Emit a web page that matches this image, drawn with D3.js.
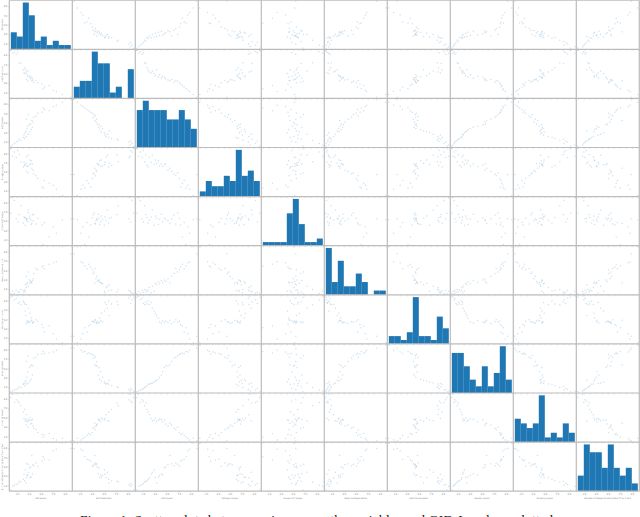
<!DOCTYPE html>
<html><head><meta charset="utf-8">
<style>html,body{margin:0;padding:0;background:#fff;overflow:hidden}svg{display:block}</style>
<script src="https://cdn.jsdelivr.net/npm/d3@7"></script></head><body>
<svg id="c" width="640" height="517"></svg>
<script>
// Readings on a 0-10 scale per variable; one entry per observation (36), same order in each list.
const gniLevels = [0.0,0.3,0.6,0.9,1.2,1.7,1.4,2.3,2.1,2.6,2.2,2.9,2.4,3.2,2.5,3.4,2.7,3.6,2.8,3.1,3.3,3.7,3.5,2.6,3.8,4.2,2.9,4.5,5.2,6.4,5.6,5.4,7.1,7.6,8.6,10.0];
const selfProduction = [10.0,9.4,9.7,9.2,9.5,7.4,7.2,6.3,5.8,5.4,5.2,5.6,5.1,4.6,5.9,4.3,4.8,4.1,4.5,4.2,3.9,3.7,3.5,3.8,3.2,3.6,3.4,3.1,2.8,2.5,2.2,1.8,1.5,1.2,0.6,0.0];
const co2Levels = [0.0,0.3,0.6,0.9,1.1,1.3,1.5,1.7,1.9,2.1,2.4,2.6,2.9,3.1,3.3,3.6,3.8,4.1,4.3,4.6,4.8,5.2,5.5,5.8,6.2,6.5,6.8,7.1,7.3,7.6,7.9,8.2,8.5,8.8,9.4,10.0];
const nitrogenUsage = [10.0,8.4,9.3,8.1,9.6,7.2,8.7,6.4,6.1,8.2,7.1,8.6,6.6,7.6,6.9,7.4,6.3,6.7,6.2,6.5,6.8,5.4,5.8,5.1,4.6,4.2,4.8,3.6,1.8,2.6,3.2,1.6,2.2,1.3,0.0,4.5];
const smokeUsage = [6.7,10.0,9.4,5.5,4.8,8.3,6.4,5.8,4.6,5.2,5.9,7.4,4.1,6.1,5.6,4.3,5.4,6.5,4.9,5.7,5.3,5.1,4.5,5.5,6.3,4.4,6.8,5.6,4.2,1.6,4.7,0.0,3.8,2.4,5.3,5.5];
const medicineExpenditure = [0.0,0.5,0.1,0.7,0.3,0.9,0.4,0.8,0.6,1.3,0.2,1.6,0.5,2.2,1.9,2.5,2.1,2.8,2.4,2.9,2.6,3.2,2.3,3.7,4.3,5.4,4.6,5.1,5.7,6.3,5.3,5.9,6.6,6.8,10.0,8.5];
const dietConsumption = [9.7,10.0,9.2,9.5,8.4,8.1,8.7,8.3,8.9,8.2,8.6,7.4,6.8,6.3,5.8,5.3,4.5,4.2,4.7,4.4,4.6,4.3,4.8,4.1,4.5,4.9,4.4,4.6,3.9,3.6,2.3,3.2,1.9,0.8,0.0,1.4];
const obesityLevels = [0.0,0.2,0.4,0.5,0.7,0.9,1.1,1.3,1.6,1.7,1.8,1.9,2.1,2.3,2.5,2.7,3.1,3.6,4.3,5.2,5.6,5.5,5.8,6.5,7.2,7.4,7.7,8.0,8.1,8.3,8.2,8.6,8.5,8.9,10.0,9.3];
const smokingLevels = [9.3,10.0,8.2,8.8,8.5,7.5,8.1,6.7,6.2,5.6,4.8,4.3,4.5,4.9,4.2,4.4,4.7,4.6,4.1,4.5,3.6,3.2,3.8,3.4,2.7,2.4,2.9,1.8,1.4,1.6,1.2,0.8,0.5,0.2,0.6,0.0];
const peopleSmoking = [0.0,0.8,1.0,1.2,1.4,1.7,1.9,2.0,2.3,2.6,3.4,3.8,4.3,2.7,1.5,2.8,3.1,3.5,3.2,4.7,4.9,5.4,7.4,5.6,5.2,5.8,5.5,5.1,6.2,6.4,6.6,7.1,8.4,8.7,10.0,8.9];

const variableLabels = ["GNI Levels","Self Production","CO2 Levels","Nitrogen Usage","Smoke KxT Usage","Medicine Expenditure","Diet Consumption","Obesity Levels","Smoking Levels","Number of People Smoking More Than 1 Year"];
const tickValues = [1,3,5,7,9];
const minorTicks = [0,1,2,3,4,5,6,7,8,9,10];
const variables = [gniLevels,selfProduction,co2Levels,nitrogenUsage,smokeUsage,medicineExpenditure,dietConsumption,obesityLevels,smokingLevels,peopleSmoking];
const captionText = "Figure 1: Scatter plots between pairs among the variables and GID-Level are plotted";

const left = 9.3, top0 = 0.2, cellW = 63.0, cellH = 49.1, n = variables.length;
const blue = "#1f77b4", spine = "#bcbcbc", textGrey = "#777";
const svg = d3.select("#c");
const xEdge = d3.scaleLinear().domain([0,n]).range([left,left+n*cellW]);
const yEdge = d3.scaleLinear().domain([0,n]).range([top0,top0+n*cellH]);

function styleAxis(ax){
  ax.select(".domain").remove();
  ax.selectAll("line").attr("stroke","#bbb").attr("stroke-width",0.4);
  ax.selectAll("text").attr("font-size",2.3).attr("fill",textGrey).attr("font-family","DejaVu Sans");
}

variables.forEach((vy,r)=>{
  variables.forEach((vx,c)=>{
    const g = svg.append("g").attr("transform",`translate(${xEdge(c)},${yEdge(r)})`);
    const x = d3.scaleLinear().domain([-0.25,10.25]).range([0,cellW]);
    const y = d3.scaleLinear().domain([-0.25,10.25]).range([cellH,0]);
    if(r===c){
      const bins = d3.bin().domain([0,10]).thresholds(d3.range(1,10))(vx);
      const yh = d3.scaleLinear().domain([0,d3.max(bins,b=>b.length)*1.05]).range([cellH,0]);
      g.selectAll("rect").data(bins).join("rect")
        .attr("x",b=>x(b.x0)).attr("width",b=>x(b.x1)-x(b.x0))
        .attr("y",b=>yh(b.length)).attr("height",b=>cellH-yh(b.length))
        .attr("fill",blue);
    } else {
      g.selectAll("circle").data(vx.map((v,i)=>[v,vy[i]])).join("circle")
        .attr("cx",d=>x(d[0])).attr("cy",d=>y(d[1])).attr("r",0.75)
        .attr("fill",blue).attr("fill-opacity",0.22);
    }
    if(r<n-1){
      const ax = g.append("g").attr("transform",`translate(0,${cellH})`)
        .call(d3.axisBottom(x).tickValues(minorTicks).tickSize(1.6).tickFormat(""));
      ax.select(".domain").remove();
      ax.selectAll("line").attr("stroke","#ccc").attr("stroke-width",0.5);
    }
    if(r===n-1){
      const ax = g.append("g").attr("transform",`translate(0,${cellH})`)
        .call(d3.axisBottom(x).tickValues(tickValues).tickSize(1.5).tickPadding(0.5).tickFormat(d3.format(".1f")));
      styleAxis(ax);
    }
    if(c===0){
      const ax = g.append("g").call(d3.axisLeft(y).tickValues(tickValues).tickSize(1.5).tickPadding(0.5).tickFormat(d3.format(".1f")));
      styleAxis(ax);
    }
  });
});

// spines
d3.range(0,n+1).forEach(i=>{
  svg.append("line").attr("x1",xEdge(i)).attr("x2",xEdge(i)).attr("y1",top0).attr("y2",yEdge(n)).attr("stroke",spine).attr("stroke-width",1.2);
  svg.append("line").attr("x1",left).attr("x2",xEdge(n)).attr("y1",yEdge(i)).attr("y2",yEdge(i)).attr("stroke",spine).attr("stroke-width",1.2);
});

// variable labels
variableLabels.forEach((t,i)=>{
  svg.append("text").attr("x",xEdge(i)+cellW/2).attr("y",498.5).attr("text-anchor","middle")
    .attr("font-size",2.1).attr("font-family","DejaVu Sans").attr("fill",textGrey).text(t);
  svg.append("text").attr("transform",`translate(3.4,${yEdge(i)+cellH/2}) rotate(-90)`).attr("text-anchor","middle")
    .attr("font-size",2.1).attr("font-family","DejaVu Sans").attr("fill",textGrey).text(t);
});

svg.append("text").attr("x",80).attr("y",523.5).attr("font-family","Liberation Serif").attr("font-size",13.5)
  .attr("fill","#111").attr("textLength",473).attr("lengthAdjust","spacing").text(captionText);
</script></body></html>
